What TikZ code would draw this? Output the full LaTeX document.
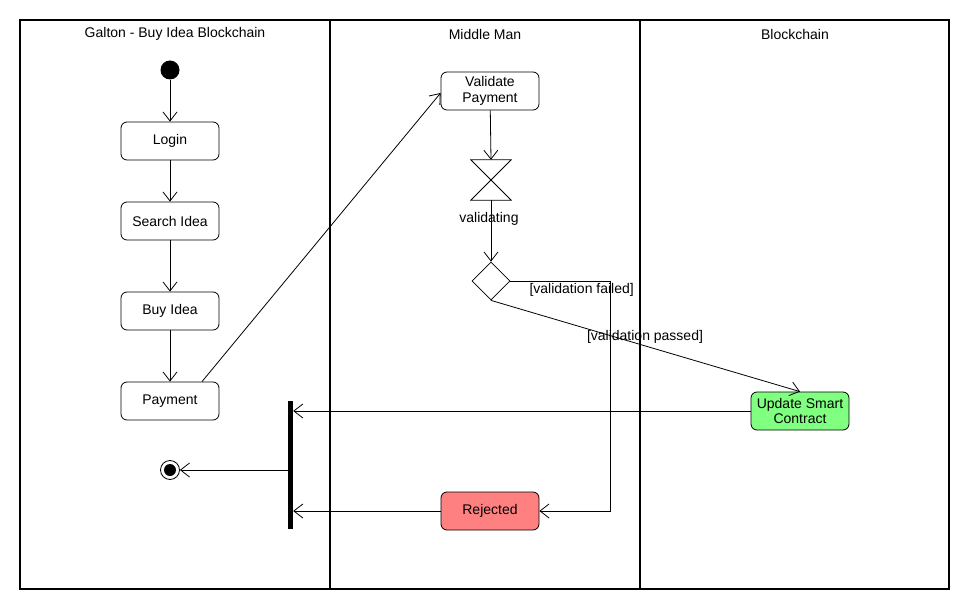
\documentclass[tikz,border=0pt]{standalone}
\usepackage{fontspec}
\setmainfont{Liberation Sans}
\usetikzlibrary{arrows.meta,shapes.geometric}
\definecolor{okgreen}{RGB}{128,255,128}
\definecolor{badred}{RGB}{255,128,128}
\begin{document}
\begin{tikzpicture}[x=1pt,y=-1pt,
  every node/.style={font=\fontsize{14}{15.5}\selectfont},
  action/.style={draw,rounded corners=6pt,minimum width=98pt,minimum height=38pt,
    align=center,inner sep=1pt,line width=0.8pt},
  flow/.style={line width=0.8pt,-{Straight Barb[length=9pt,width=14pt,line width=0.8pt]}},
  plain/.style={line width=0.8pt},
  lane/.style={line width=1.6pt}]
\useasboundingbox (0,0) rectangle (970,610);

% swimlanes
\draw[line width=1.3pt] (20,20) rectangle (949,589);
\draw[lane] (330,20) -- (330,589);
\draw[lane] (640,20) -- (640,589);
\node (h1) at (175,34) {Galton - Buy Idea Blockchain};
\node (h2) at (485,34) {Middle Man};
\node (h3) at (795,34) {Blockchain};

% customer lane
\node[circle,fill,minimum size=19pt,inner sep=0] (start) at (170,70) {};
\node[action] (login) at (170,141) {Login};
\node[action] (search) at (170,221) {Search Idea};
\node[action] (buy) at (170,311) {Buy Idea};
\node[action] (pay) at (170,401) {Payment};
\node[circle,draw,line width=0.8pt,minimum size=19pt,inner sep=0] (fin) at (170,470) {};
\fill (fin.center) circle (6pt);
\node[fill,minimum width=5pt,minimum height=128pt,inner sep=0] (bar) at (290.5,465) {};

% middle man lane
\node[action] (vp) at (490,91) {Validate\\Payment};
\node[minimum width=40pt,minimum height=40pt,inner sep=0] (hg) at (491,180) {};
\draw[plain] (hg.north west) -- (hg.north east) -- (hg.south west) -- (hg.south east) -- cycle;
\node (hglabel) at (489,219) {validating};
\node[diamond,draw,line width=0.8pt,minimum width=38pt,minimum height=38pt,inner sep=0,aspect=1] (dec) at (491,281) {};
\node[action,fill=badred] (rej) at (490,511) {Rejected};
\coordinate (bend1) at (610,281);
\coordinate (bend2) at (610,511);

% blockchain lane
\node[action,fill=okgreen] (upd) at (800,411) {Update Smart\\Contract};

% flows
\draw[flow] (start) -- (login);
\draw[flow] (login) -- (search);
\draw[flow] (search) -- (buy);
\draw[flow] (buy) -- (pay);
\draw[flow] ([xshift=32pt]pay.north) -- ([yshift=-2pt]vp.west);
\draw[flow] (vp) -- (hg.north);
\draw[flow] (hg.south) -- (dec.north);
\draw[flow] (dec.east) -- (bend1) -- (bend2) -- (rej.east);
\draw[flow] (dec.south) -- (upd.north);
\draw[flow] (upd.west) -- (bar.east |- upd.west);
\draw[flow] (rej.west) -- (bar.east |- rej.west);
\draw[flow] (bar.west |- fin) -- (fin.east);

% guards
\node[anchor=west] (gfail) at (526,290) {[validation failed]};
\node (gpass) at (645,337) {[validation passed]};
\end{tikzpicture}
\end{document}
